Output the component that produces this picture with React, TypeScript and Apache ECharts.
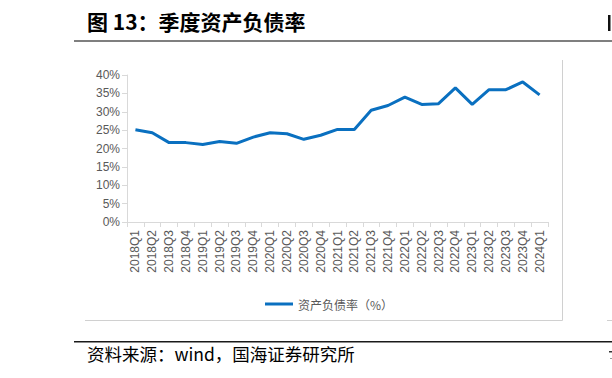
import React, { useEffect, useRef } from "react";
import * as echarts from "echarts";

const categories = [
  "2018Q1", "2018Q2", "2018Q3", "2018Q4",
  "2019Q1", "2019Q2", "2019Q3", "2019Q4",
  "2020Q1", "2020Q2", "2020Q3", "2020Q4",
  "2021Q1", "2021Q2", "2021Q3", "2021Q4",
  "2022Q1", "2022Q2", "2022Q3", "2022Q4",
  "2023Q1", "2023Q2", "2023Q3", "2023Q4",
  "2024Q1",
];

const debtRatio = [
  25.1, 24.3, 21.6, 21.6,
  21.1, 21.9, 21.4, 23.1,
  24.3, 24.0, 22.5, 23.6,
  25.2, 25.2, 30.4, 31.7,
  34.0, 32.0, 32.2, 36.5,
  32.0, 36.0, 36.0, 38.1,
  34.6,
];

const seriesName = "资产负债率（%）";
const titleText = "图 13：季度资产负债率";
const sourceText = "资料来源：wind，国海证券研究所";

export default function App() {
  const ref = useRef<HTMLDivElement>(null);

  useEffect(() => {
    if (!ref.current) return;
    const chart = echarts.init(ref.current, undefined, { renderer: "svg" });
    const cjk = "'Noto Sans CJK SC', 'Liberation Sans', sans-serif";
    const axisFont = "'Liberation Sans', 'Noto Sans CJK SC', sans-serif";
    chart.setOption({
      animation: false,
      backgroundColor: "#ffffff",
      grid: { left: 127, right: 64, top: 75, bottom: 156, containLabel: false },
      xAxis: {
        type: "category",
        data: categories,
        boundaryGap: true,
        axisLine: { show: true, lineStyle: { color: "#d9d9d9", width: 1 } },
        axisTick: { show: true, alignWithLabel: false, length: 5, lineStyle: { color: "#d9d9d9" } },
        axisLabel: {
          interval: 0,
          rotate: 90,
          color: "#595959",
          fontSize: 12,
          fontFamily: axisFont,
          margin: 8,
        },
        splitLine: { show: false },
      },
      yAxis: {
        type: "value",
        min: 0,
        max: 40,
        interval: 5,
        axisLine: { show: true, lineStyle: { color: "#d9d9d9", width: 1 } },
        axisTick: { show: true, length: 5, lineStyle: { color: "#d9d9d9" } },
        axisLabel: {
          formatter: "{value}%",
          color: "#595959",
          fontSize: 12,
          fontFamily: axisFont,
          margin: 7,
        },
        splitLine: { show: false },
      },
      legend: {
        show: true,
        left: 260,
        top: 293,
        itemWidth: 28,
        itemHeight: 14,
        textStyle: { color: "#595959", fontSize: 12, fontFamily: cjk },
        data: [{ name: seriesName, icon: "path://M0,0 L28,0 L28,3 L0,3 Z" }],
      },
      series: [
        {
          name: seriesName,
          type: "line",
          data: debtRatio,
          symbol: "none",
          showSymbol: false,
          lineStyle: { color: "#0a70c0", width: 3 },
          itemStyle: { color: "#0a70c0" },
        },
      ],
      graphic: [
        {
          type: "text",
          left: 87,
          top: 10,
          style: {
            text: titleText,
            fill: "#000000",
            font: "bold 21px " + cjk,
          },
        },
        {
          type: "rect",
          shape: { x: 608, y: 15, width: 2.5, height: 16 },
          style: { fill: "#111111" },
        },
        {
          type: "rect",
          shape: { x: 74, y: 40, width: 538, height: 2 },
          style: { fill: "#7f7f7f" },
        },
        {
          type: "line",
          shape: { x1: 562.5, y1: 60, x2: 562.5, y2: 320.5 },
          style: { stroke: "#d0d0d0", lineWidth: 1 },
        },
        {
          type: "line",
          shape: { x1: 85, y1: 320.5, x2: 562.5, y2: 320.5 },
          style: { stroke: "#d0d0d0", lineWidth: 1 },
        },
        {
          type: "line",
          shape: { x1: 607, y1: 320.5, x2: 612, y2: 320.5 },
          style: { stroke: "#d0d0d0", lineWidth: 1 },
        },
        {
          type: "rect",
          shape: { x: 74, y: 341, width: 538, height: 1.5 },
          style: { fill: "#1a1a1a" },
        },
        {
          type: "text",
          left: 87,
          top: 345,
          style: { text: sourceText, fill: "#000000", font: "17.5px " + cjk },
        },
        {
          type: "rect",
          shape: { x: 609, y: 351, width: 3, height: 1.5 },
          style: { fill: "#333333" },
        },
        {
          type: "rect",
          shape: { x: 610, y: 358, width: 2, height: 1 },
          style: { fill: "#999999" },
        },
      ],
    });
    return () => chart.dispose();
  }, []);

  return (
    <div
      ref={ref}
      style={{ position: "fixed", left: 0, top: 0, width: 612, height: 378, background: "#fff" }}
    />
  );
}
